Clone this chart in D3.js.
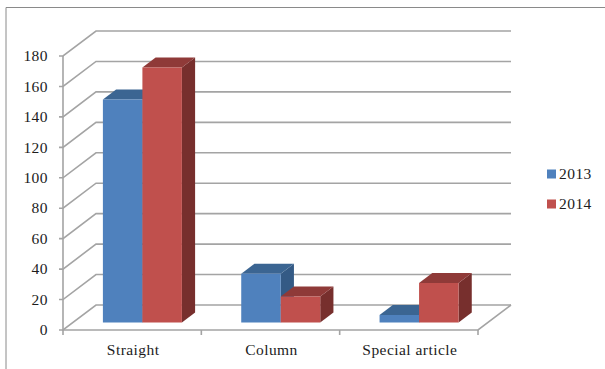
<!DOCTYPE html>
<html>
<head>
<meta charset="utf-8">
<script src="https://cdn.jsdelivr.net/npm/d3@7/dist/d3.min.js"></script>
<style>
  html, body { margin: 0; padding: 0; background: #fff; }
  svg { display: block; }
  text { font-family: "Liberation Serif", serif; font-size: 15.5px; fill: #1c1c1c; letter-spacing: 0.45px; }
</style>
</head>
<body>
<svg id="chart" width="605" height="369"></svg>
<script>
const categories = ["Straight", "Column", "Special article"];
const seriesNames = ["2013", "2014"];
const values2013 = [146.5, 32, 5];
const values2014 = [167.5, 17, 26];
const yTicks = [0, 20, 40, 60, 80, 100, 120, 140, 160, 180];
const seriesValues = [values2013, values2014];
const faceColors = ["#4f81bd", "#c0504d"];
const topColors = ["#3b6592", "#8f3a38"];
const sideColors = ["#345a85", "#772f2d"];

const svg = d3.select("#chart");
const gridColor = "#a4a4a4";

const y = d3.scaleLinear().domain([0, 180]).range([330, 56]);
const x = d3.scaleBand().domain(categories).range([63, 478]);
const xSeries = d3.scaleBand().domain(seriesNames).range([30, 109]);

// Oblique projection: depth 0 is the front plane, depth 1 the back wall.
const depth = d3.scaleLinear().domain([0, 1]);
const dx = depth.copy().range([0, 33]);
const dy = depth.copy().range([0, -25]);
const pt = (px, py, d) => [px + dx(d), py + dy(d)];
const line = d3.line();

// Outer frame
svg.append("path").attr("d", "M6,369V7.5H605").attr("fill", "none")
  .attr("stroke", "#8a8a8a").attr("stroke-width", 1);

// Gridlines on the back wall and the side wall
const grid = svg.append("g").attr("fill", "none").attr("stroke", gridColor).attr("stroke-width", 1.6);
yTicks.forEach(t => {
  const py = y(t);
  grid.append("path").attr("d", line([[59, py], pt(63, py, 0), pt(63, py, 1), pt(x.range()[1], py, 1)]));
});
grid.append("path").attr("d", line([[63, y(180)], [63, y(0)], [478, y(0)], pt(478, y(0), 1)]));
[...categories.map(c => x(c)), x.range()[1]].forEach(px => {
  grid.append("path").attr("d", line([[px, y(0)], [px, y(0) + 5]]));
});

// Extruded bars, earlier series first so the later one overlaps its side
const zFront = 0.3, zBack = 0.7;
seriesNames.forEach((name, s) => {
  categories.forEach((cat, i) => {
    const v = seriesValues[s][i];
    const x0 = x(cat) + xSeries(name);
    const x1 = x0 + xSeries.bandwidth();
    const top = y(v), base = y(0);
    const g = svg.append("g");
    const poly = (pts, fill) => g.append("path").attr("d", line(pts) + "Z").attr("fill", fill);
    poly([pt(x1, top, zFront), pt(x1, top, zBack), pt(x1, base, zBack), pt(x1, base, zFront)], sideColors[s]);
    poly([pt(x0, top, zFront), pt(x0, top, zBack), pt(x1, top, zBack), pt(x1, top, zFront)], topColors[s]);
    poly([pt(x0, top, zFront), pt(x1, top, zFront), pt(x1, base, zFront), pt(x0, base, zFront)], faceColors[s]);
  });
});

// Value labels
svg.append("g").selectAll("text").data(yTicks).join("text")
  .attr("x", 48).attr("y", d => y(d)).attr("dy", "0.34em")
  .attr("text-anchor", "end").text(d => d);

// Category labels
svg.append("g").selectAll("text").data(categories).join("text")
  .attr("x", d => x(d) + x.bandwidth() / 2 + 1).attr("y", 355)
  .attr("text-anchor", "middle").text(d => d);

// Legend
const legendY = d3.scalePoint().domain(seriesNames).range([174, 204]);
const legend = svg.append("g").selectAll("g").data(seriesNames).join("g");
legend.append("rect").attr("x", 547).attr("y", d => legendY(d) - 4.5)
  .attr("width", 9).attr("height", 9).attr("fill", (d, i) => faceColors[i]);
legend.append("text").attr("x", 559).attr("y", d => legendY(d)).attr("dy", "0.34em").text(d => d);
</script>
</body>
</html>
